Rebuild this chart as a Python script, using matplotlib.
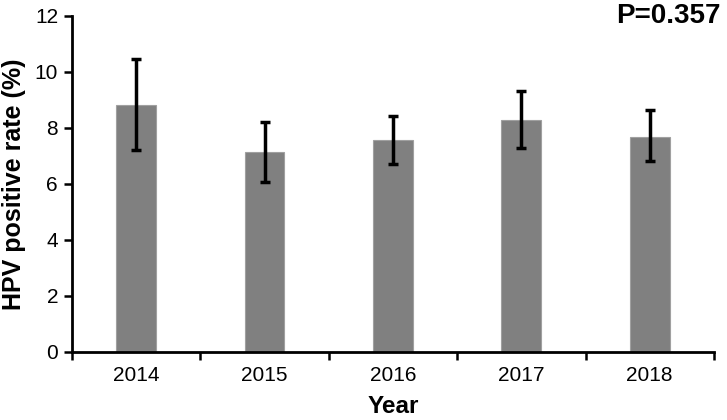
import numpy as np
import matplotlib.pyplot as plt

years = ['2014', '2015', '2016', '2017', '2018']
rate = [8.82, 7.14, 7.57, 8.29, 7.68]
err_hi = [10.46, 8.21, 8.43, 9.32, 8.64]
err_lo = [7.21, 6.07, 6.71, 7.29, 6.82]

plt.rcParams['font.family'] = ['Liberation Sans', 'DejaVu Sans']

fig = plt.figure(figsize=(7.27, 4.2), dpi=100)
ax = fig.add_axes([0.099, 0.162, 0.883, 0.800])

x = np.arange(len(years))
lower = np.array(rate) - np.array(err_lo)
upper = np.array(err_hi) - np.array(rate)
ax.bar(x, rate, width=0.31, color='#808080', edgecolor='#a0a0a0', linewidth=0.8)
ax.errorbar(x, rate, yerr=[lower, upper], fmt='none', ecolor='black',
            elinewidth=2.5, capsize=3.8, capthick=2.5)

ax.set_xlim(-0.5, 4.5)
ax.set_ylim(0, 12)
ax.set_yticks(range(0, 13, 2))
ax.set_xticks(x)
ax.set_xticklabels(years)
ax.set_xticks(np.arange(-0.5, 5, 1), minor=True)
ax.tick_params(axis='x', which='major', length=0, pad=10, labelsize=15)
ax.tick_params(axis='x', which='minor', length=6, width=1.8, direction='out')
ax.tick_params(axis='y', length=6, width=1.8, direction='out', labelsize=15, pad=4)

for side in ['top', 'right']:
    ax.spines[side].set_visible(False)
for side in ['left', 'bottom']:
    ax.spines[side].set_linewidth(2)

ax.set_xlabel('Year', fontsize=17.5, fontweight='bold', labelpad=7.5)
ax.set_ylabel('HPV positive rate (%)', fontsize=18, fontweight='bold', labelpad=6)
fig.text(0.991, 0.993, 'P=0.357', ha='right', va='top', fontsize=20, fontweight='bold')

fig.savefig('out.png', dpi=100)
